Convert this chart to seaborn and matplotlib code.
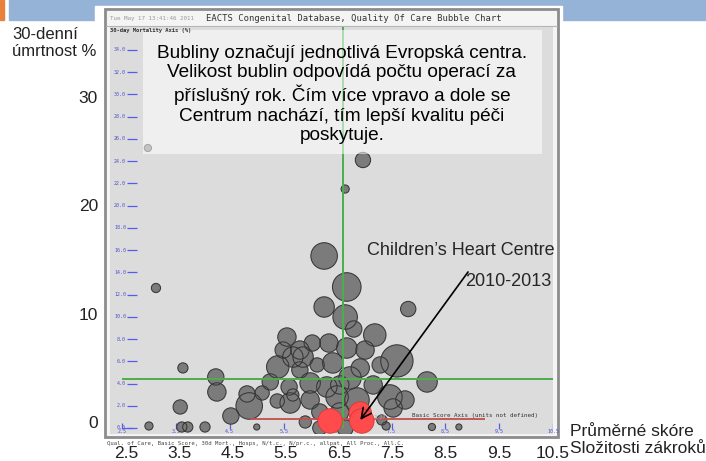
import numpy as np
import pandas as pd
import seaborn as sns
import matplotlib.pyplot as plt
from matplotlib.patches import Rectangle

# European centres: basic score (x), 30-day mortality % (y), operations per year (bubble area)
score = [2.98, 3.13, 6.64, 6.97, 6.25, 6.67, 6.25, 6.64, 7.81, 5.56, 6.80, 7.19, 6.34, 7.60, 8.16,
         3.63, 4.24, 4.26, 4.82, 4.86, 4.52, 4.04, 5.00,
         5.39, 5.67, 5.80, 5.80, 5.60, 5.67, 5.38, 5.62, 5.86, 6.12, 6.41, 6.67, 6.92, 6.73, 5.99, 6.30,
         7.16, 7.47, 7.53, 5.99, 6.49, 6.86, 7.32, 7.40,
         3.00, 3.61, 3.72, 3.58, 8.25, 8.75,
         6.64, 6.17, 5.90, 6.54, 6.17, 5.25, 5.49, 6.03, 7.01, 7.29, 5.10, 6.54, 7.75]
mortality = [25.18, 12.59, 21.49, 24.10, 15.47, 12.68, 10.88, 9.98, 10.70, 8.18, 8.90, 8.36, 7.64, 6.03, 4.14,
             5.40, 4.59, 3.24, 3.06, 1.98, 1.08, 0.09, 0.09,
             5.49, 6.38, 7.01, 5.22, 3.69, 2.97, 2.43, 2.25, 6.38, 5.67, 5.85, 7.19, 5.40, 4.50, 4.05, 3.69,
             3.87, 2.79, 1.80, 2.52, 2.79, 2.52, 0.72, 0.18,
             0.18, 0.09, 0.09, 1.89, 0.09, 0.09,
             0.0, 0.0, 0.54, 1.44, 1.44, 4.14, 7.01, 7.64, 7.01, 5.67, 3.15, 3.87, 2.52]
operations = [49, 81, 64, 225, 676, 784, 400, 576, 225, 324, 256, 484, 324, 1024, 400,
              100, 256, 324, 256, 676, 256, 100, 36,
              484, 400, 324, 256, 256, 144, 196, 400, 400, 196, 400, 400, 324, 484, 400, 400,
              324, 576, 324, 324, 484, 576, 100, 64,
              64, 100, 100, 196, 49, 36,
              256, 196, 144, 324, 256, 256, 256, 256, 324, 256, 196, 324, 324]

# Children's Heart Centre 2010-2013
centre_score = [6.36, 6.92, 6.95]
centre_mortality = [0.63, 1.35, 0.63]
centre_operations = [576, 484, 576]

# reference lines
mean_score = 6.6
mean_mortality = 4.4
red_from, red_to, red_level = 4.87, 9.23, 0.8

inner_yticks = list(range(0, 35, 2))
inner_xticks = [2.5, 3.5, 4.5, 5.5, 6.5, 7.5, 8.5, 9.5, 10.5]
outer_yticks = [0, 10, 20, 30]
outer_xticks = [2.5, 3.5, 4.5, 5.5, 6.5, 7.5, 8.5, 9.5, 10.5]

box_text = ("Bubliny označují jednotlivá Evropská centra.\n"
            "Velikost bublin odpovídá počtu operací za\n"
            "příslušný rok. Čím více vpravo a dole se\n"
            "Centrum nachází, tím lepší kvalitu péči\n"
            "poskytuje.")

sns.set_theme(style="white")
plt.rcParams['font.family'] = ['Liberation Sans', 'DejaVu Sans']
MONO = ['DejaVu Sans Mono']

W, H = 706, 461
fig = plt.figure(figsize=(W / 100, H / 100), dpi=100)
fig.patch.set_facecolor('white')


def rect(x0, y0, x1, y1):
    return [x0 / W, 1 - y1 / H, (x1 - x0) / W, (y1 - y0) / H]


def px(x, y):
    return x / W, 1 - y / H


# slide background and screenshot frame
bg = fig.add_axes([0, 0, 1, 1], zorder=0)
bg.set_xlim(0, W)
bg.set_ylim(H, 0)
bg.axis('off')
bg.add_patch(Rectangle((9, 0), W - 9, 20, color='#95b3d7'))
bg.add_patch(Rectangle((0, 0), 3.5, 20, color='#e8823a'))
bg.add_patch(Rectangle((95, 6), 467, 455, color='white'))
bg.add_patch(Rectangle((105, 9), 453, 428, facecolor='#f4f4f4', edgecolor='#8c8c8c', lw=2))
bg.plot([106, 557], [26, 26], color='#b4b4b4', lw=0.8)

# main bubble chart
ax = fig.add_axes(rect(110, 27, 553, 434), zorder=1)
ax.set_facecolor('#dcdcdc')
ax.set_xlim(2.2774, 10.496)
ax.set_ylim(-0.54, 36.06)
ax.set_xticks([])
ax.set_yticks([])
for sp in ax.spines.values():
    sp.set_visible(False)

# grid dots and the inner blue axis
gx, gy = np.meshgrid(inner_xticks[1:], inner_yticks[1:])
ax.scatter(gx.ravel(), gy.ravel(), s=0.35, marker='s', color='#a4a4ee', lw=0, zorder=1)
ax.hlines(inner_yticks, 2.593, 2.778, color='#5a5aee', lw=0.9, zorder=1)
for t in inner_yticks:
    ax.text(2.574, t, f"{t:.1f}", ha='right', va='center', fontsize=3.6, color='#5050d0',
            family=MONO, zorder=1)
ax.vlines(inner_xticks, -0.09, 0.45, color='#5a5aee', lw=0.9, zorder=1)
ax.hlines(0, 2.5, 2.7, color='#5a5aee', lw=0.9, zorder=1)
for t in inner_xticks:
    ax.text(t, -0.32, f"{t:.1f}", ha='center', va='center', fontsize=3.6, color='#5050d0',
            family=MONO, zorder=1)

df = pd.DataFrame({'score': score, 'mortality': mortality, 'operations': operations})
cdf = pd.DataFrame({'score': centre_score, 'mortality': centre_mortality,
                    'operations': centre_operations})
kw = dict(x='score', y='mortality', size='operations', sizes=(0, 540),
          size_norm=(0, 1000), legend=False, ax=ax)
sns.scatterplot(data=df, color='#7b7b7b', edgecolor='none', linewidth=0, zorder=2, **kw)
sns.scatterplot(data=df, color='none', edgecolor='#363636', linewidth=0.75, zorder=2.1, **kw)

ax.vlines(mean_score, 0, 36.06, color='#4cae4c', lw=1.4, zorder=3)
ax.hlines(mean_mortality, 2.5, 10.5, color='#4cae4c', lw=1.4, zorder=3)
ax.hlines(red_level, red_from, red_to, color='#c0504d', lw=1.3, zorder=3.5)

sns.scatterplot(data=cdf, color='#ff4b4b', edgecolor='#d23a3a', linewidth=0.6, zorder=4, **kw)
ax.text(7.16, 0.9, "2.27", fontsize=3.8, color='#a8a8a8', family=MONO, va='center', zorder=4.5)
ax.text(7.88, 1.08, "Basic Score Axis (units not defined)", fontsize=4.2, color='#333333',
        family=MONO, va='center', zorder=4.5)

# translucent caption box
ax.add_patch(Rectangle((2.89, 24.64), 7.40, 11.15, facecolor='white', alpha=0.55,
                       edgecolor='none', zorder=5))
ax.text(6.58, 30.0, box_text, ha='center', va='center', multialignment='center',
        fontsize=13.7, color='black', linespacing=1.2, zorder=6)

ax.text(7.05, 15.92, "Children’s Heart Centre", fontsize=13, ha='left', va='center', zorder=6)
ax.text(8.86, 13.13, "2010-2013", fontsize=13, ha='left', va='center', zorder=6)
ax.annotate("", xy=(6.92, 0.72), xytext=(8.92, 14.03), zorder=6,
            arrowprops=dict(arrowstyle='->, head_length=0.6, head_width=0.3',
                            color='black', lw=1.2, shrinkA=0, shrinkB=0))

# slide axis labels
lab = fig.add_axes(rect(110, 27, 553, 434), zorder=2)
lab.patch.set_visible(False)
for sp in lab.spines.values():
    sp.set_visible(False)
lab.set_xlim(2.20, 10.513)
lab.set_ylim(-1.108, 36.46)
lab.set_xticks(outer_xticks)
lab.set_xticklabels([f"{t:g}" for t in outer_xticks])
lab.set_yticks(outer_yticks)
lab.set_yticklabels([str(t) for t in outer_yticks])
lab.tick_params(axis='x', length=0, pad=8.6, labelsize=12.5, colors='#222222')
lab.tick_params(axis='y', length=0, pad=8.6, labelsize=12.5, colors='#222222')

fig.text(*px(12, 43), "30-denní\númrtnost %", fontsize=12, ha='left', va='center',
         linespacing=1.2, color='#222222')
fig.text(*px(570, 440), "Průměrné skóre\nSložitosti zákroků", fontsize=12.5, ha='left',
         va='center', linespacing=1.2, color='#222222')

# screenshot captions
fig.text(*px(354, 18.5), "EACTS Congenital Database, Quality Of Care Bubble Chart",
         fontsize=6.4, ha='center', va='center', family=MONO, color='#333333')
fig.text(*px(110, 18.5), "Tue May 17 13:41:46 2011", fontsize=4.2, ha='left', va='center',
         family=MONO, color='#9a9a9a')
fig.text(*px(110, 30.5), "30-day Mortality Axis (%)", fontsize=4.0, ha='left', va='center',
         family=MONO, color='#333333', weight='bold', zorder=5)
fig.text(*px(107, 443), "Qual. of Care, Basic Score, 30d Mort., Hosps, N/t.c., N/pr.c., "
         "allpat, All Proc., All.C.", fontsize=4.1, ha='left', va='center', family=MONO,
         color='#444444')

fig.savefig('out.png', dpi=100)
